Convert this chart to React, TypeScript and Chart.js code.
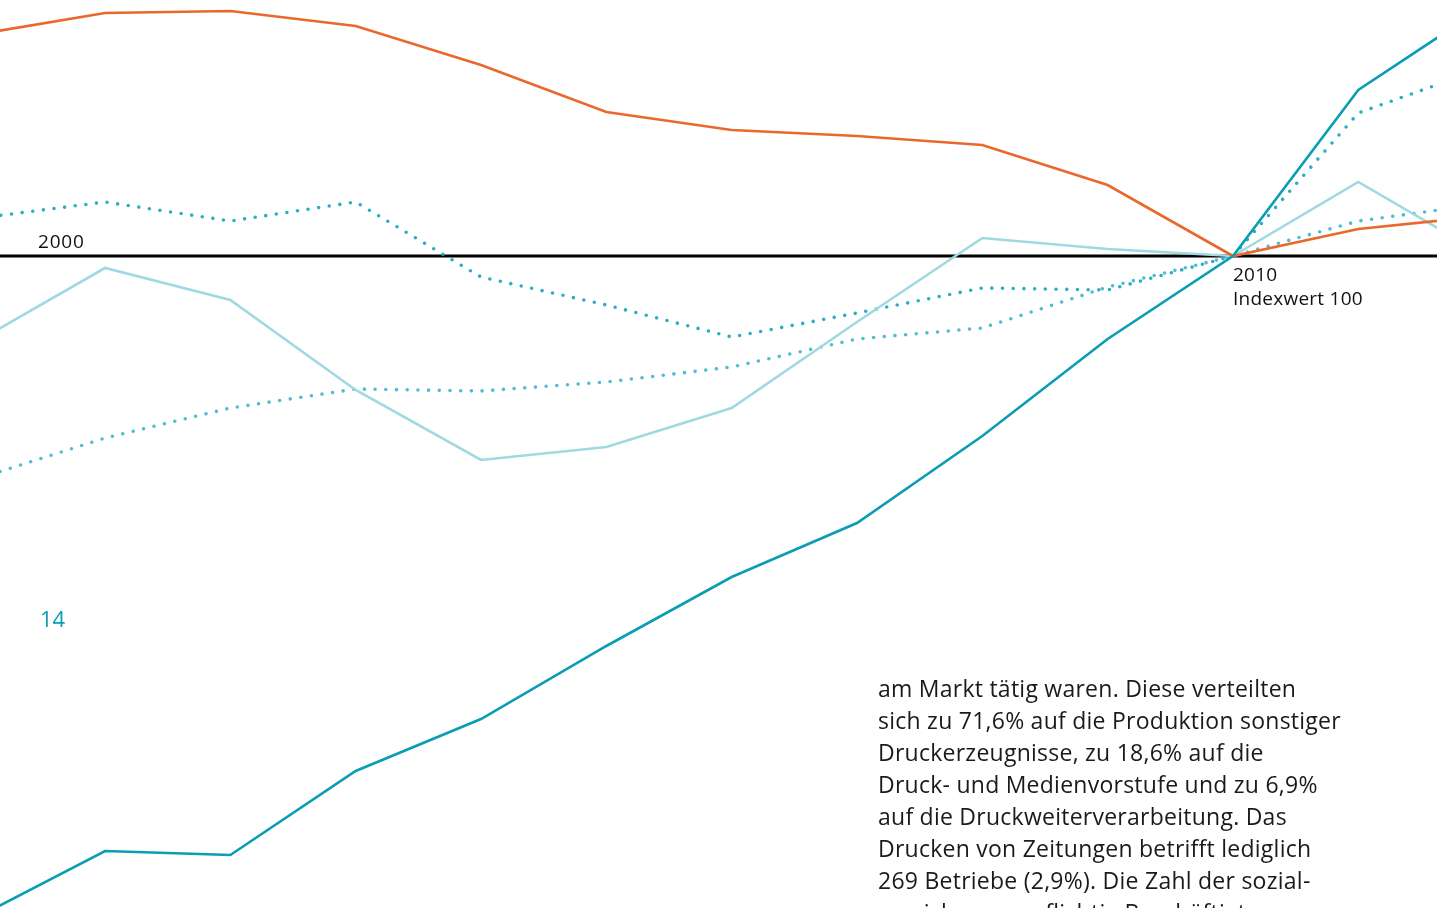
import React, { useEffect, useRef } from "react";
import { Chart, registerables } from "chart.js";

Chart.register(...registerables);

// Years (2000 = left, off-screen; 2012 = right, off-screen)
const years = [2000, 2001, 2002, 2003, 2004, 2005, 2006, 2007, 2008, 2009, 2010, 2011, 2012];

// Index values (2010 = 100)
const orangeSeries = [111.1, 112.15, 112.25, 111.5, 109.55, 107.2, 106.3, 106.0, 105.55, 103.55, 100, 101.35, 102.0];
const dottedUpperSeries = [101.9, 102.7, 101.75, 102.7, 98.95, 97.55, 95.95, 97.15, 98.4, 98.3, 100, 107.15, 109.4];
const dottedLowerSeries = [88.9, 90.9, 92.4, 93.35, 93.25, 93.7, 94.45, 95.85, 96.4, 98.45, 100, 101.75, 102.6];
const lightTealSeries = [95.8, 99.4, 97.8, 93.3, 89.8, 90.45, 92.4, 96.7, 100.9, 100.35, 100, 103.7, 100.05];
const darkTealSeries = [67.0, 70.25, 70.05, 74.25, 76.85, 80.5, 83.95, 86.65, 91.0, 95.85, 100, 108.3, 112.45];
const baselineYears = [2000, 2012];
const baselineValues = [100, 100];

const paragraphLines = [
  "am Markt tätig waren. Diese verteilten",
  "sich zu 71,6% auf die Produktion sonstiger",
  "Druckerzeugnisse, zu 18,6% auf die",
  "Druck- und Medienvorstufe und zu 6,9%",
  "auf die Druckweiterverarbeitung. Das",
  "Drucken von Zeitungen betrifft lediglich",
  "269 Betriebe (2,9%). Die Zahl der sozial-",
  "versicherungspflichtig Beschäftigten",
];

const toPoints = (xs: number[], ys: number[]) => xs.map((x, i) => ({ x, y: ys[i] }));

export default function App() {
  const canvasRef = useRef<HTMLCanvasElement | null>(null);

  useEffect(() => {
    if (!canvasRef.current) return;
    const chart = new Chart(canvasRef.current, {
      type: "line",
      data: {
        datasets: [
          {
            label: "Basis",
            data: toPoints(baselineYears, baselineValues),
            borderColor: "#000000",
            borderWidth: 3,
            order: 10,
          },
          {
            label: "Dotted lower",
            data: toPoints(years, dottedLowerSeries),
            borderColor: "#4dbdd0",
            borderWidth: 3.6,
            borderDash: [0, 10.7],
            borderCapStyle: "round",
            order: 5,
          },
          {
            label: "Dotted upper",
            data: toPoints(years, dottedUpperSeries),
            borderColor: "#2aaec6",
            borderWidth: 3.6,
            borderDash: [0, 10.7],
            borderCapStyle: "round",
            order: 4,
          },
          {
            label: "Light teal",
            data: toPoints(years, lightTealSeries),
            borderColor: "#9fd9e1",
            borderWidth: 2.6,
            order: 3,
          },
          {
            label: "Orange",
            data: toPoints(years, orangeSeries),
            borderColor: "#e9692c",
            borderWidth: 2.6,
            order: 2,
          },
          {
            label: "Dark teal",
            data: toPoints(years, darkTealSeries),
            borderColor: "#0a9db3",
            borderWidth: 2.6,
            order: 1,
          },
        ],
      },
      options: {
        animation: false,
        responsive: false,
        maintainAspectRatio: false,
        layout: { padding: 0 },
        elements: { point: { radius: 0, hoverRadius: 0 }, line: { tension: 0 } },
        plugins: { legend: { display: false }, tooltip: { enabled: false } },
        scales: {
          x: { type: "linear", display: false, min: 2000.162, max: 2011.628 },
          y: { type: "linear", display: false, min: 67.4, max: 112.8 },
        },
      },
    });
    return () => chart.destroy();
  }, []);

  const textFont = "'Open Sans', 'Noto Sans', sans-serif";

  return (
    <div
      style={{
        position: "fixed",
        left: 0,
        top: 0,
        width: 1437,
        height: 908,
        overflow: "hidden",
        background: "#ffffff",
        fontFamily: textFont,
      }}
    >
      <canvas ref={canvasRef} width={1437} height={908} style={{ position: "absolute", left: 0, top: 0 }} />
      <div style={{ position: "absolute", left: 38, top: 229, fontSize: 19, lineHeight: "24px", letterSpacing: "0.8px", color: "#111" }}>2000</div>
      <div style={{ position: "absolute", left: 1233, top: 262, fontSize: 19, lineHeight: "24px", letterSpacing: "0.25px", color: "#111" }}>
        <div>2010</div>
        <div>Indexwert 100</div>
      </div>
      <div style={{ position: "absolute", left: 40, top: 604, fontSize: 22, lineHeight: "28px", color: "#0a9db3" }}>14</div>
      <div style={{ position: "absolute", left: 878, top: 672, fontSize: 23, lineHeight: "32px", letterSpacing: "0.25px", color: "#1a1a1a", whiteSpace: "nowrap" }}>
        {paragraphLines.map((l, i) => (
          <div key={i}>{l}</div>
        ))}
      </div>
    </div>
  );
}
